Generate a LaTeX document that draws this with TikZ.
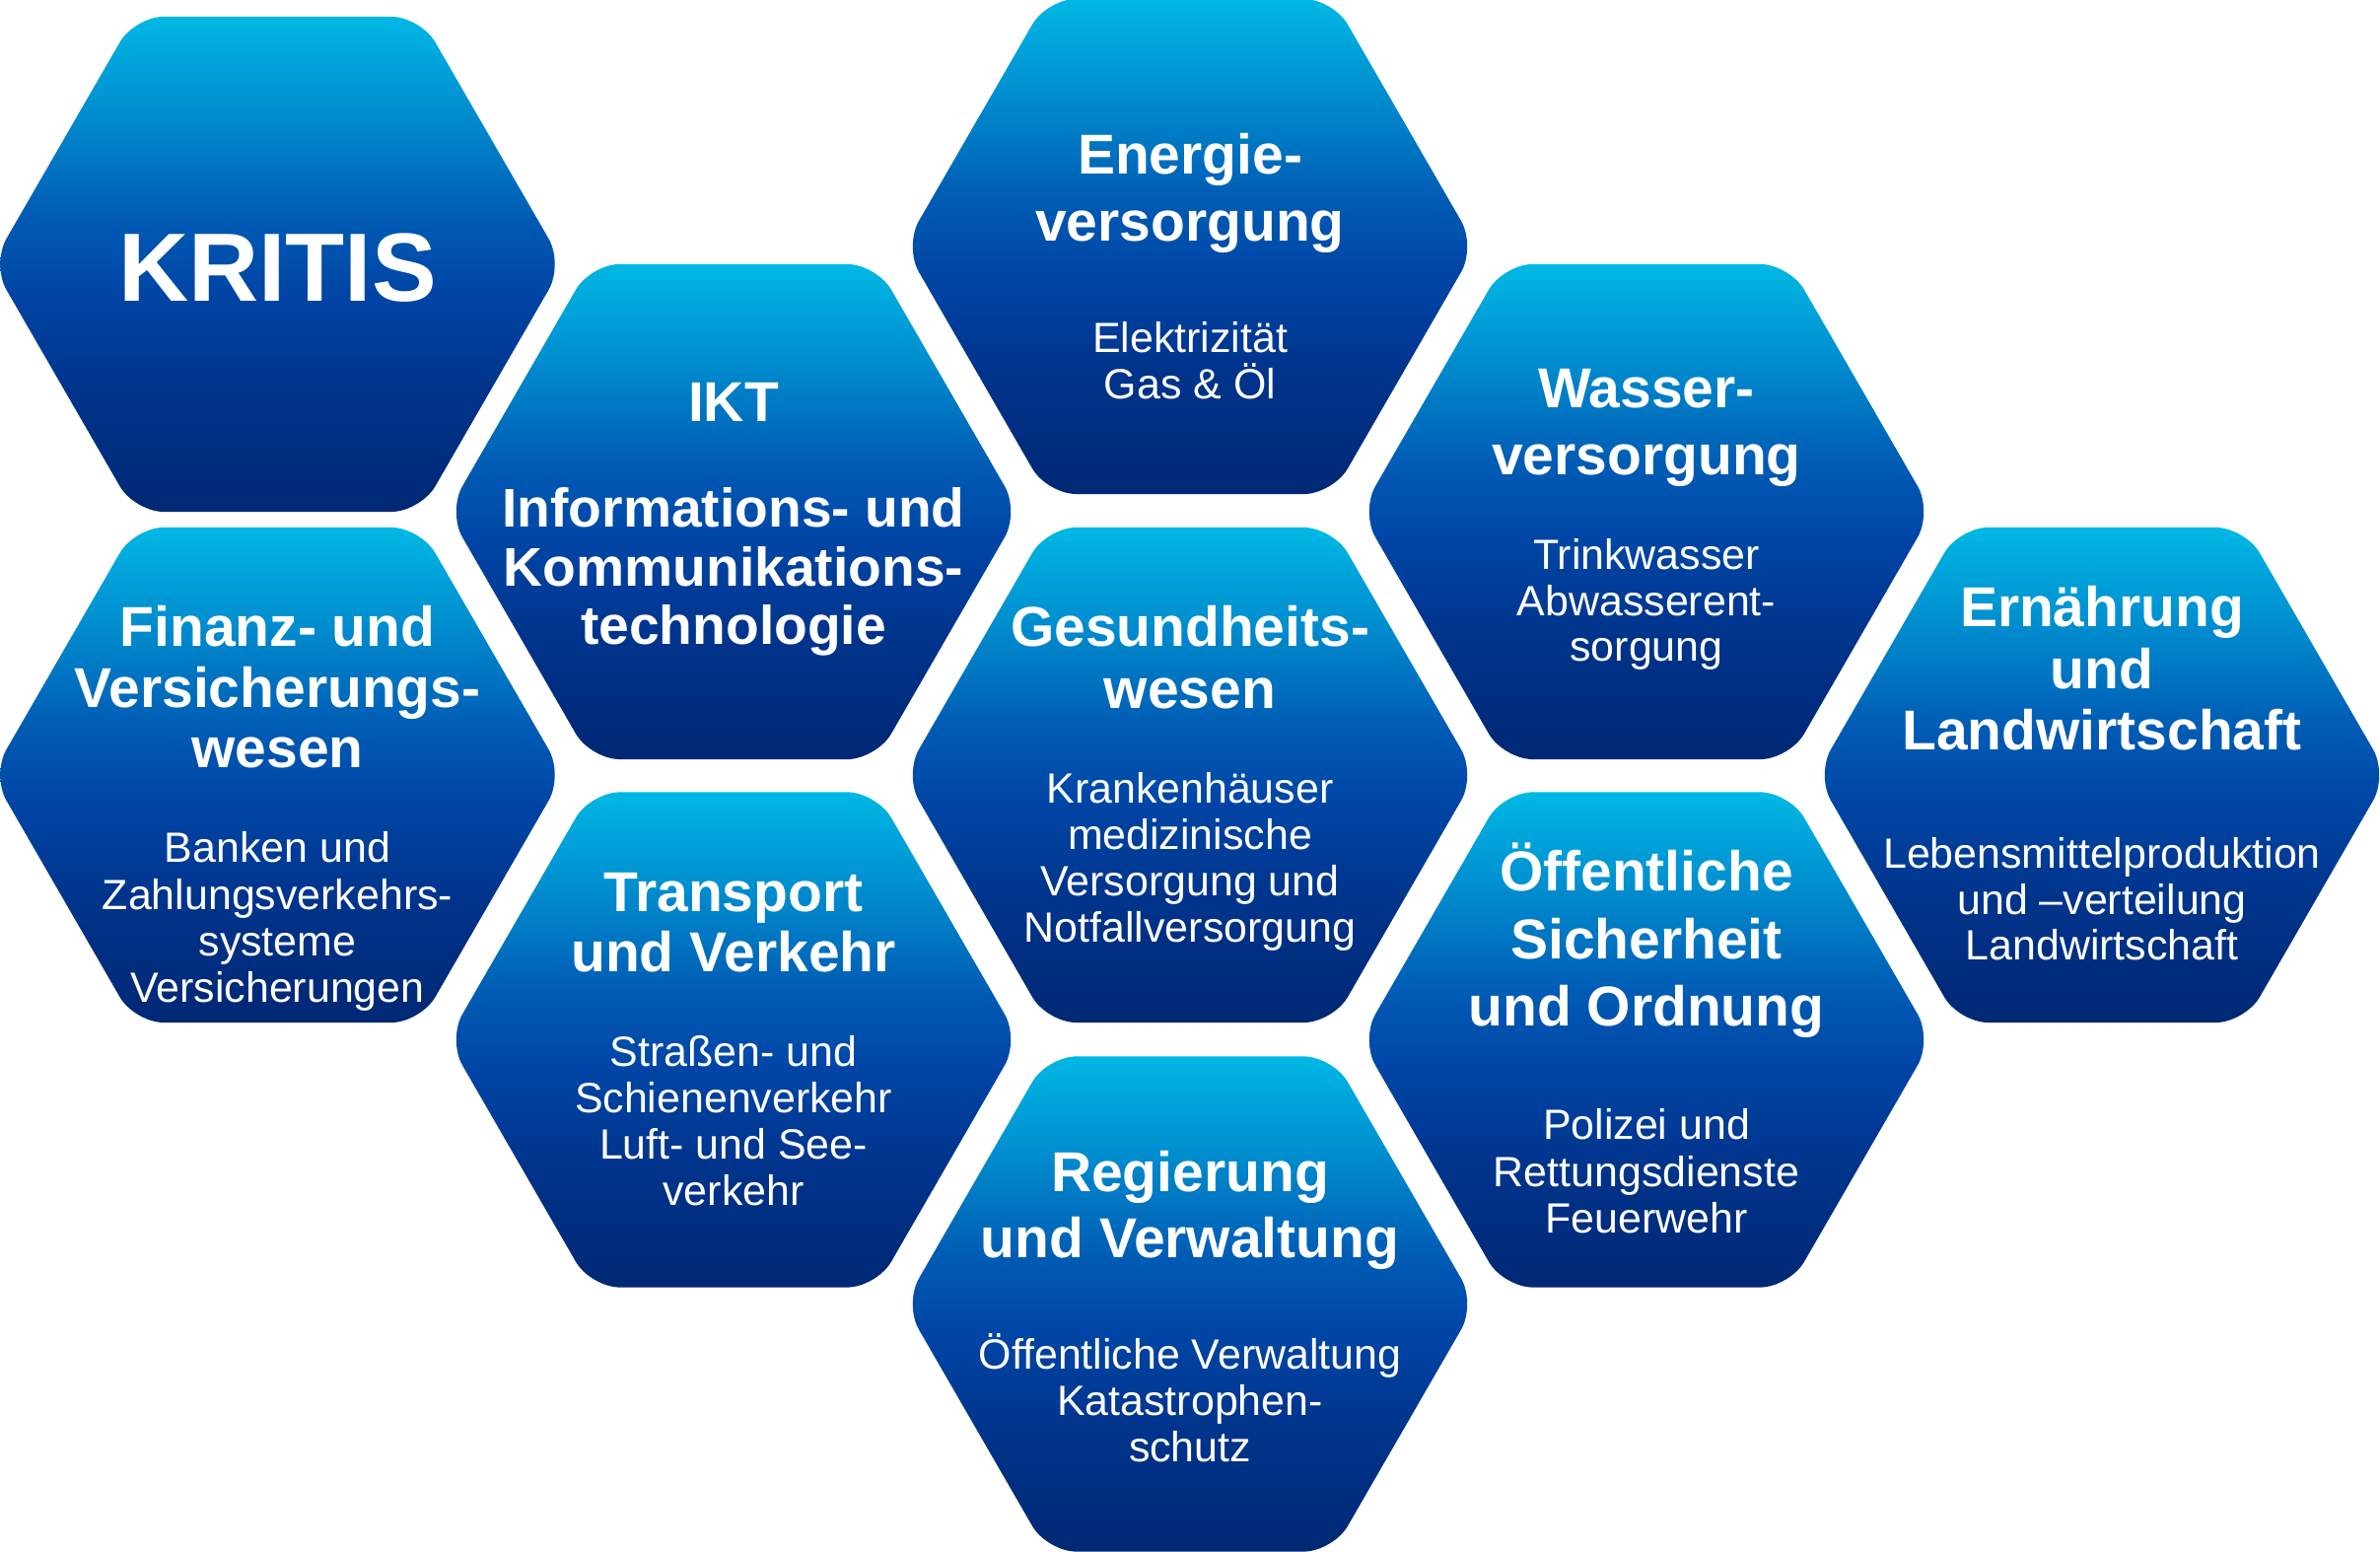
\documentclass[tikz,border=0pt]{standalone}
\usepackage{fontspec}
\setmainfont{Liberation Sans}
\usetikzlibrary{shapes.geometric}
\definecolor{hgA}{RGB}{0,40,116}
\definecolor{hgB}{RGB}{0,52,140}
\definecolor{hgC}{RGB}{0,70,166}
\definecolor{hgD}{RGB}{0,92,180}
\definecolor{hgE}{RGB}{0,140,206}
\definecolor{hgF}{RGB}{0,184,228}
\pgfdeclareverticalshading{hexgrad}{100bp}{color(0bp)=(hgA); color(25bp)=(hgA); color(37.5bp)=(hgB); color(47.5bp)=(hgC); color(55bp)=(hgD); color(65bp)=(hgE); color(75bp)=(hgF); color(100bp)=(hgF)}
\newcommand\hexlines[6]{%
  \foreach \hxl [count=\hxk] in {#6}{%
    \node[#5] (#1-\hxk) at (#2,{#3+(\hxk-1)*#4}) {\hxl};
  }}
\tikzset{
  hexbox/.style={regular polygon, regular polygon sides=6, minimum size=5.796cm,
    inner sep=0pt, outer sep=0pt, rounded corners=0.3cm, shade, shading=hexgrad, draw=none},
  ttl/.style={anchor=base, text=white, inner sep=0pt,
    font=\fontsize{16.2}{19}\selectfont\bfseries},
  ttlsm/.style={anchor=base, text=white, inner sep=0pt,
    font=\fontsize{15.7}{19}\selectfont\bfseries},
  sub/.style={anchor=base, text=white, inner sep=0pt,
    font=\fontsize{12.2}{14}\selectfont},
  big/.style={anchor=base, text=white, inner sep=0pt,
    font=\fontsize{28}{34}\selectfont\bfseries}
}
\begin{document}
\begin{tikzpicture}[x=0.01cm,y=-0.01cm]
\useasboundingbox (0,0) rectangle (2414,1574);
% hexagons
\node[hexbox] (kritis) at (281.5,268) {};
\node[hexbox] (finanz) at (281.5,786) {};
\node[hexbox] (ikt) at (744,519) {};
\node[hexbox] (transport) at (744,1054.5) {};
\node[hexbox] (energie) at (1207,250) {};
\node[hexbox] (gesund) at (1207,786) {};
\node[hexbox] (regierung) at (1207,1322.5) {};
\node[hexbox] (wasser) at (1670,519) {};
\node[hexbox] (oeff) at (1670,1054.5) {};
\node[hexbox] (ernaehr) at (2132,786) {};
% texts
\node[big] (kritis-t) at (281.5,306) {KRITIS};
\hexlines{energie-t}{1207}{177}{68}{ttl}{Energie-,versorgung}
\hexlines{energie-s}{1207}{358}{47}{sub}{Elektrizität,Gas \& Öl}
\node[ttl] (ikt-a) at (744,428) {IKT};
\hexlines{ikt-t}{744}{534.7}{59.5}{ttlsm}{Informations- und,Kommunikations-,technologie}
\hexlines{wasser-t}{1670}{413.6}{68}{ttl}{Wasser-,versorgung}
\hexlines{wasser-s}{1670}{578}{46.5}{sub}{Trinkwasser,Abwasserent-,sorgung}
\hexlines{finanz-t}{281.5}{656}{61.5}{ttl}{Finanz- und,Versicherungs-,wesen}
\hexlines{finanz-s}{281.5}{875}{47.3}{sub}{Banken und,Zahlungsverkehrs-,systeme,Versicherungen}
\hexlines{gesund-t}{1207}{656}{63}{ttl}{Gesundheits-,wesen}
\hexlines{gesund-s}{1207}{815}{46.8}{sub}{Krankenhäuser,medizinische,Versorgung und,Notfallversorgung}
\hexlines{ernaehr-t}{2132}{636}{62.5}{ttl}{Ernährung,und,Landwirtschaft}
\hexlines{ernaehr-s}{2132}{881}{46.3}{sub}{Lebensmittelproduktion,und –verteilung,Landwirtschaft}
\hexlines{transport-t}{744}{925}{61}{ttl}{Transport,und Verkehr}
\hexlines{transport-s}{744}{1082}{47}{sub}{Straßen- und,Schienenverkehr,Luft- und See-,verkehr}
\hexlines{oeff-t}{1670}{904}{68.5}{ttl}{Öffentliche,Sicherheit,und Ordnung}
\hexlines{oeff-s}{1670}{1156}{47.5}{sub}{Polizei und,Rettungsdienste,Feuerwehr}
\hexlines{regierung-t}{1207}{1209}{67}{ttl}{Regierung,und Verwaltung}
\hexlines{regierung-s}{1207}{1389}{47}{sub}{Öffentliche Verwaltung,Katastrophen-,schutz}
\end{tikzpicture}
\end{document}
